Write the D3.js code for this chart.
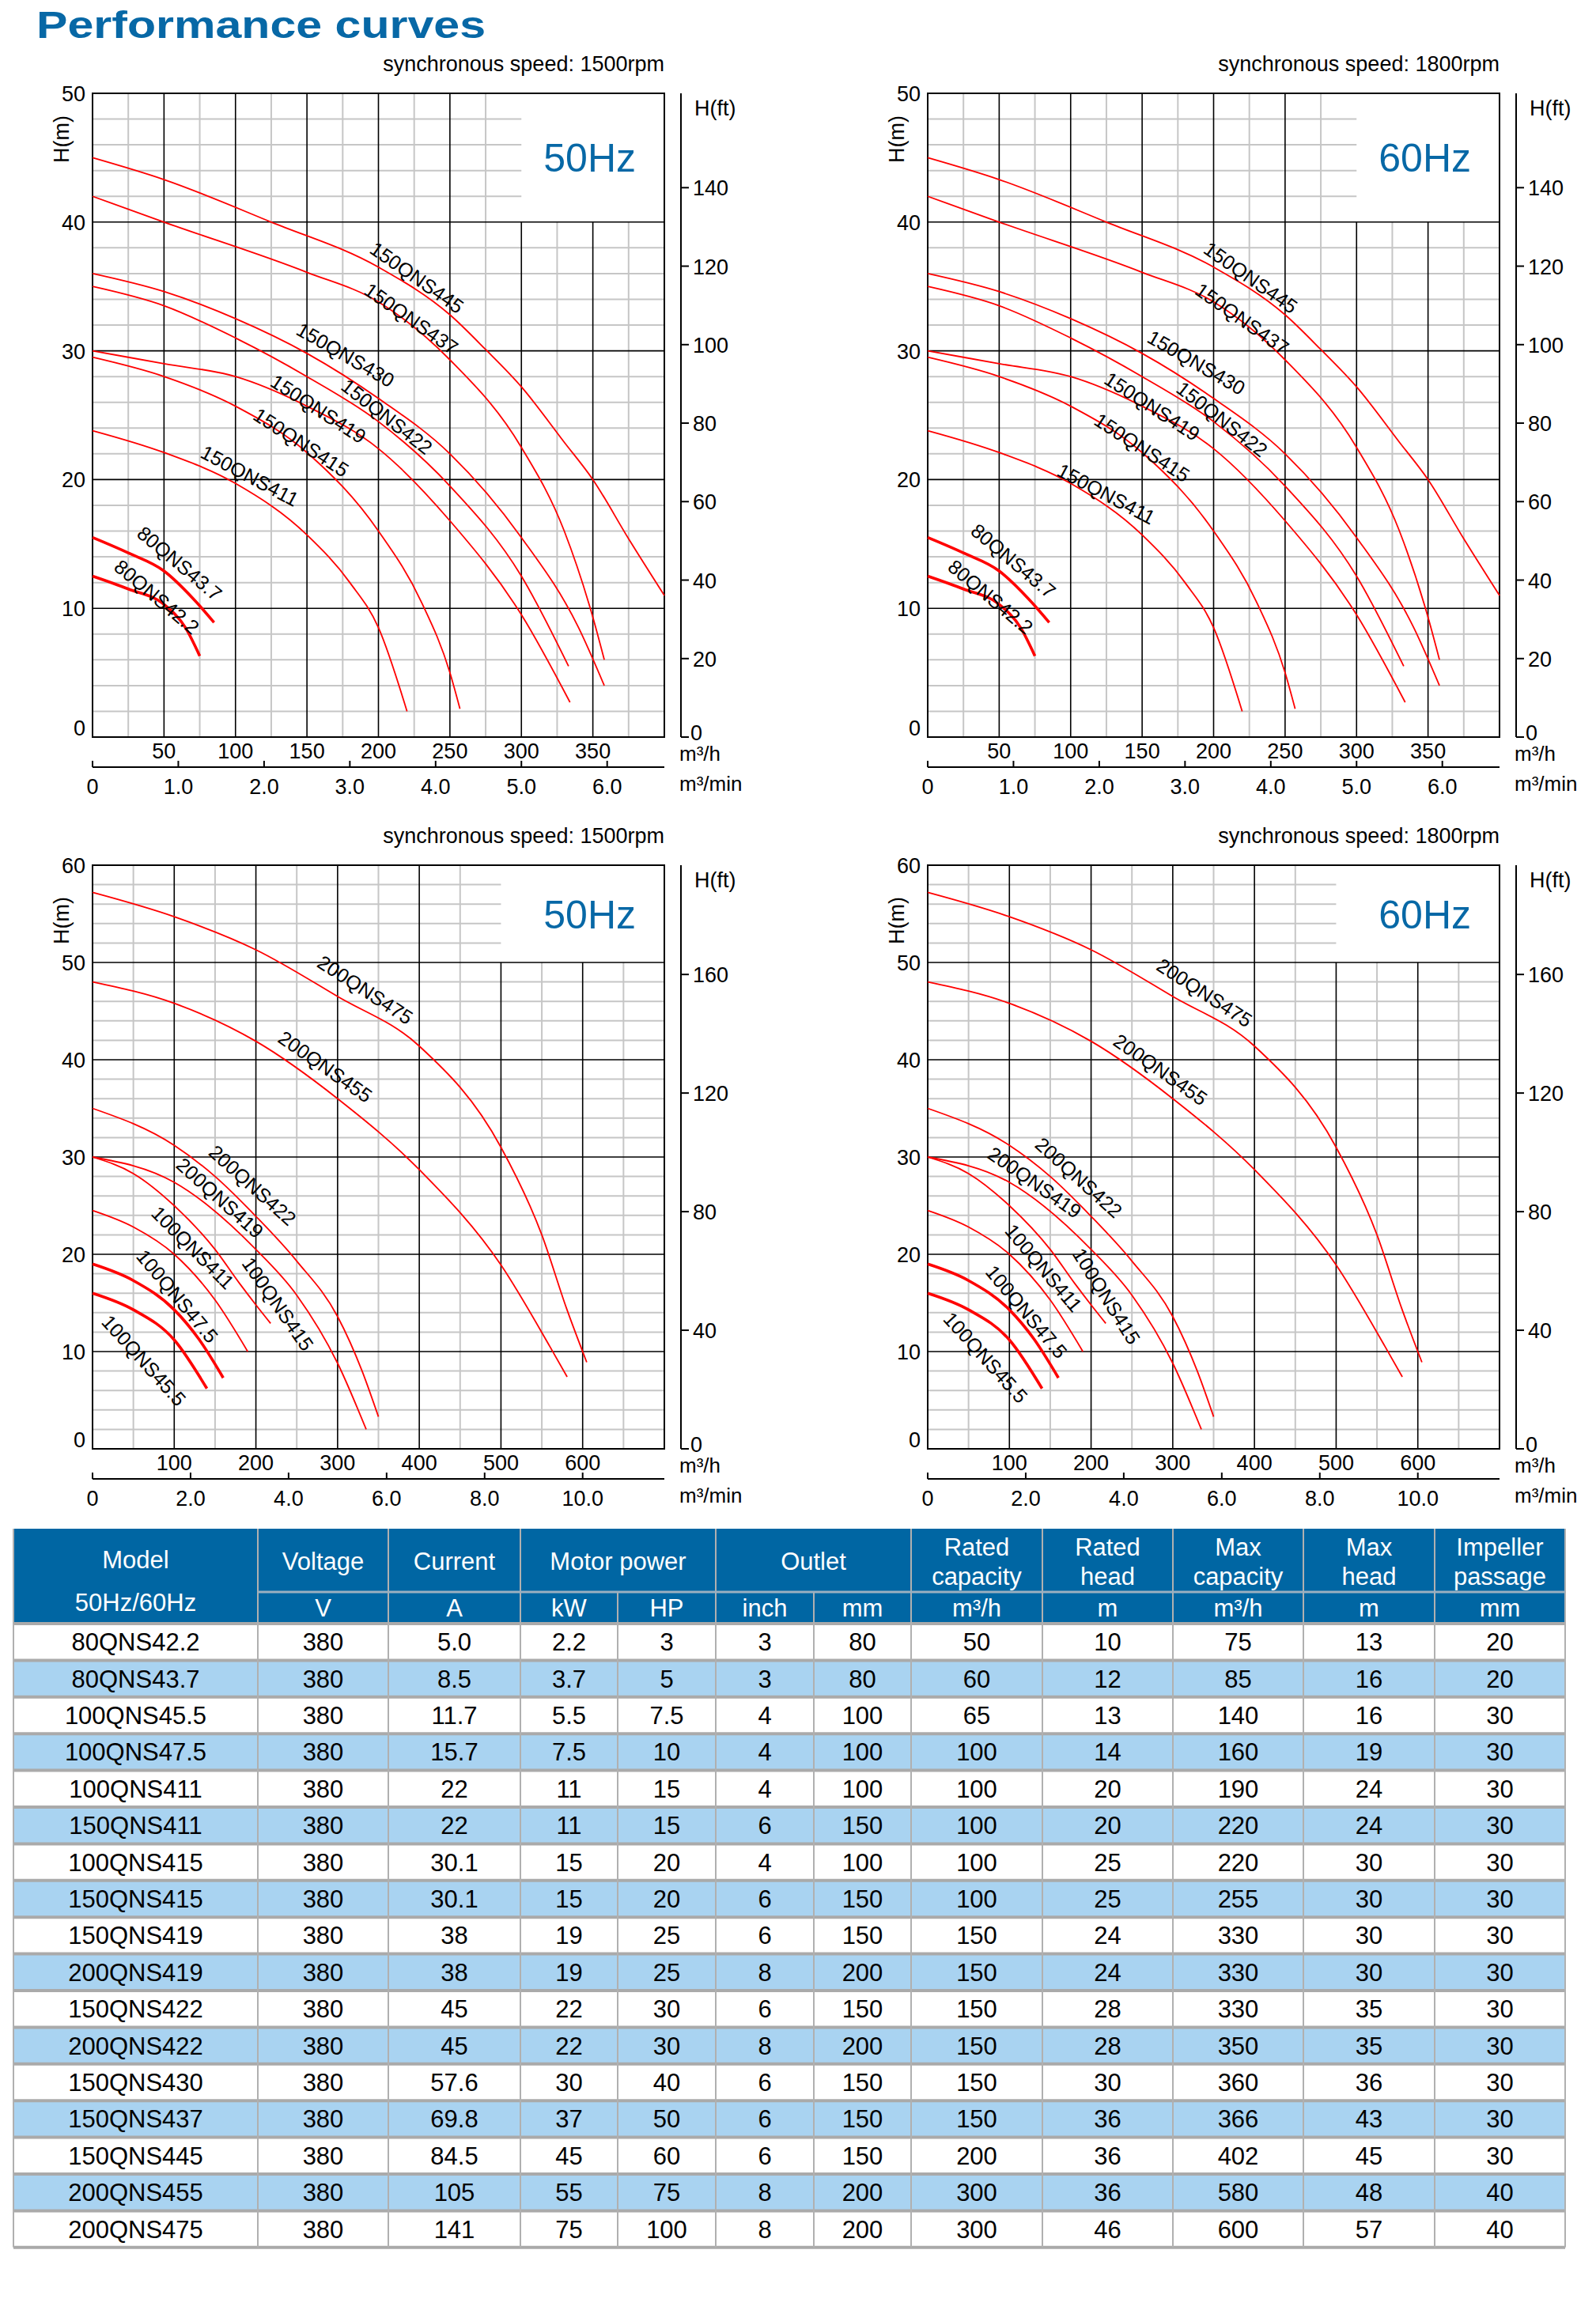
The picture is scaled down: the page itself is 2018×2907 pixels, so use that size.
<!DOCTYPE html>
<html><head><meta charset="utf-8">
<script src="https://cdn.jsdelivr.net/npm/d3@7"></script>
<style>body{margin:0;background:#fff}text{font-family:"Liberation Sans",Arial,sans-serif}</style>
</head><body><svg id="page" width="2018" height="2907"></svg>
<script>
// curves for 150QNS / 80QNS pumps, [flow m3/h, head m]
var s445 = [[0,45],[50,43.3],[125,40],[200,36.5],[250,32.8],[275,30.1],[300,27.2],[330,22.9],[350,20],[375,15.4],[400,11]];
var s437 = [[0,42],[50,40],[150,36.1],[200,33.8],[250,29.3],[300,22.5],[330,16],[350,9.3],[358,6]];
var s430 = [[0,36],[50,34.6],[100,32.5],[150,29.8],[200,26.3],[250,22],[300,15.5],[340,8.5],[358,4]];
var s422 = [[0,35],[50,33.5],[100,31],[150,28],[200,24.5],[250,19.5],[300,12.5],[333,5.5]];
var s419 = [[0,30],[50,29],[100,28],[150,25.7],[200,22.4],[250,16.8],[300,9.5],[334,2.7]];
var s415 = [[0,29.5],[50,28],[100,25.7],[150,22.1],[200,16],[230,10.5],[250,5],[257,2.2]];
var s411 = [[0,23.8],[50,22.1],[100,19.7],[150,15.7],[180,12],[200,8.5],[220,2]];
var s437b = [[0,15.5],[25,14.3],[50,12.9],[70,10.8],[85,8.9]];
var s422b = [[0,12.5],[25,11.5],[50,10.3],[65,8.5],[75,6.3]];
// curves for 200QNS / 100QNS pumps
var t475 = [[0,57.2],[100,54.7],[200,51.3],[300,46.5],[400,41.4],[500,31],[550,22],[580,14.5],[605,8.9]];
var t455 = [[0,48],[100,45.8],[200,41.9],[300,36],[400,28.7],[500,18.9],[560,10.5],[581,7.4]];
var t422 = [[0,35],[100,31.2],[150,28],[200,23.9],[250,19.3],[300,13.6],[330,8],[350,3.3]];
var t419 = [[0,30],[100,27.4],[200,20.5],[250,15.8],[300,8.8],[335,2]];
var t415 = [[0,30],[50,28.3],[100,25],[150,20.5],[180,17],[200,14.8],[218,12.9]];
var t411 = [[0,24.5],[50,22.8],[100,20],[150,15.3],[190,10]];
var t475b = [[0,19],[50,17.3],[100,14.3],[130,11.3],[160,7.3]];
var t455b = [[0,16],[50,14.3],[100,11.2],[140,6.2]];

var topNames = ["150QNS445","150QNS437","150QNS430","150QNS422","150QNS419","150QNS415","150QNS411","80QNS43.7","80QNS42.2"];
var topSeries = [s445, s437, s430, s422, s419, s415, s411, s437b, s422b];
var topLabels50 = [[227,35.7,35],[223,32.5,35],[177,29.7,30],[206,24.9,38],[158,25.5,33],[146,22.9,33],[110,20.3,28],[61,13.5,40],[45,10.9,40]];
var topLabels60 = [[226,35.7,35],[220,32.5,35],[188,29.1,30],[206,24.7,38],[157,25.7,33],[150,22.5,33],[125,18.9,28],[60,13.7,40],[44,10.9,40]];

var botNames = ["200QNS475","200QNS455","200QNS422","200QNS419","100QNS415","100QNS411","100QNS47.5","100QNS45.5"];
var botSeries = [t475, t455, t422, t419, t415, t411, t475b, t455b];
var botLabels50 = [[334,47.2,33],[285,39.3,35],[196,27.1,42],[156,25.8,42],[227,14.9,55],[123,20.7,45],[104,15.7,50],[63,9.1,48]];
var botLabels60 = [[339,46.9,33],[285,39,35],[185,27.9,42],[131,27.4,35],[219,15.7,58],[142,18.6,50],[121,14.1,50],[71,9.4,48]];

// table
var columns = ["Model","Voltage","Current","kW","HP","inch","mm","Rated capacity","Rated head","Max capacity","Max head","Impeller passage"];
var units = ["V","A","kW","HP","inch","mm","m³/h","m","m³/h","m","mm"];
var models = ["80QNS42.2","80QNS43.7","100QNS45.5","100QNS47.5","100QNS411","150QNS411","100QNS415","150QNS415","150QNS419","200QNS419","150QNS422","200QNS422","150QNS430","150QNS437","150QNS445","200QNS455","200QNS475"];
var voltage = [380,380,380,380,380,380,380,380,380,380,380,380,380,380,380,380,380];
var current = ["5.0","8.5","11.7","15.7","22","22","30.1","30.1","38","38","45","45","57.6","69.8","84.5","105","141"];
var kw = ["2.2","3.7","5.5","7.5","11","11","15","15","19","19","22","22","30","37","45","55","75"];
var hp = ["3","5","7.5","10","15","15","20","20","25","25","30","30","40","50","60","75","100"];
var inch = [3,3,4,4,4,6,4,6,6,8,6,8,6,6,6,8,8];
var outletMm = [80,80,100,100,100,150,100,150,150,200,150,200,150,150,150,200,200];
var ratedCap = [50,60,65,100,100,100,100,100,150,150,150,150,150,150,200,300,300];
var ratedHead = [10,12,13,14,20,20,25,25,24,24,28,28,30,36,36,36,46];
var maxCap = [75,85,140,160,190,220,220,255,330,330,330,350,360,366,402,580,600];
var maxHead = [13,16,16,19,24,24,30,30,30,30,35,35,36,43,45,48,57];
var passage = [20,20,30,30,30,30,30,30,30,30,30,30,30,30,30,40,40];

var svg = d3.select("#page");
var blue = "#0768a6";

svg.append("text").attr("x", 46).attr("y", 48).attr("font-size", 48).attr("font-weight", 900)
  .attr("fill", blue).attr("textLength", 568).attr("lengthAdjust", "spacingAndGlyphs")
  .text("Performance curves");

function drawChart(o) {
  var w = 723, h = o.h;
  var g = svg.append("g").attr("transform", "translate(" + o.left + "," + o.top + ")");
  var x = d3.scaleLinear().domain([0, o.xMax]).range([0, w]);
  var y = d3.scaleLinear().domain([0, o.yMax]).range([h, 0]);
  var inBox = function (xv, yv) { return xv > o.boxX && yv > o.boxY; };

  g.append("text").attr("x", w).attr("y", -28).attr("text-anchor", "end").attr("font-size", 27)
    .text("synchronous speed: " + o.rpm);

  // grid, minor then major
  d3.range(o.xMinor, o.xMax, o.xMinor).forEach(function (v) {
    var major = v % o.xMajor === 0;
    var y2 = v >= o.boxX ? y(o.boxY) : 0;
    g.append("line").attr("x1", x(v)).attr("x2", x(v)).attr("y1", h).attr("y2", y2)
      .attr("stroke", major ? "#000" : "#c6c6c6").attr("stroke-width", major ? 1.6 : 2).attr("data-m", major ? 1 : 0);
  });
  d3.range(o.yMinor, o.yMax, o.yMinor).forEach(function (v) {
    var major = Math.abs(v % o.yMajor) < 1e-6;
    var x2 = v > o.boxY ? x(o.boxX) : w;
    if (v === o.boxY) x2 = w;
    g.append("line").attr("x1", 0).attr("x2", x2).attr("y1", y(v)).attr("y2", y(v))
      .attr("stroke", major ? "#000" : "#c6c6c6").attr("stroke-width", major ? 1.6 : 2).attr("data-m", major ? 1 : 0);
  });
  g.selectAll("line[data-m='1']").raise();
  g.append("rect").attr("width", w).attr("height", h).attr("fill", "none").attr("stroke", "#000").attr("stroke-width", 2);

  g.append("text").attr("x", x(o.xMax) - 36).attr("y", y(o.boxY + (o.yMax - o.boxY) / 2) + 18)
    .attr("text-anchor", "end").attr("font-size", 50).attr("fill", blue).text(o.hz);

  // left axis labels
  d3.range(0, o.yMax + 1, o.yMajor).forEach(function (v) {
    g.append("text").attr("x", -9).attr("y", y(v) + (v === 0 ? -2 : 10)).attr("text-anchor", "end")
      .attr("font-size", 27).text(v);
  });
  g.append("text").attr("transform", "translate(-30," + (o.hmY) + ") rotate(-90)").attr("text-anchor", "middle")
    .attr("font-size", 27).text("H(m)");

  // flow axis labels
  d3.range(o.xMajor, o.xMax, o.xMajor * o.xLabStep).forEach(function (v) {
    g.append("text").attr("x", x(v)).attr("y", h + 27).attr("text-anchor", "middle").attr("font-size", 27).text(v);
  });
  // m3/min axis
  var xm = d3.scaleLinear().domain([0, o.xMax / 60]).range([0, w]);
  var ay = h + 38;
  g.append("line").attr("x1", 0).attr("x2", w).attr("y1", ay).attr("y2", ay).attr("stroke", "#000").attr("stroke-width", 2);
  o.minTicks.forEach(function (v) {
    g.append("line").attr("x1", xm(v)).attr("x2", xm(v)).attr("y1", ay).attr("y2", ay - 8).attr("stroke", "#000").attr("stroke-width", 2);
    g.append("text").attr("x", xm(v)).attr("y", ay + 34).attr("text-anchor", "middle").attr("font-size", 27)
      .text(v === 0 ? "0" : v.toFixed(1));
  });

  // ft axis
  var ax = w + 21;
  var yf = d3.scaleLinear().domain([0, o.yMax / 0.3048]).range([h, 0]);
  g.append("line").attr("x1", ax).attr("x2", ax).attr("y1", 0).attr("y2", h).attr("stroke", "#000").attr("stroke-width", 2);
  o.ftTicks.forEach(function (v) {
    g.append("line").attr("x1", ax).attr("x2", ax + 10).attr("y1", yf(v)).attr("y2", yf(v)).attr("stroke", "#000").attr("stroke-width", 2);
    g.append("text").attr("x", ax + 15).attr("y", yf(v) + 10).attr("font-size", 27).text(v);
  });
  g.append("line").attr("x1", ax).attr("x2", ax + 10).attr("y1", h).attr("y2", h).attr("stroke", "#000").attr("stroke-width", 2);
  g.append("text").attr("x", ax + 12).attr("y", h + 4).attr("font-size", 27).text("0");
  g.append("text").attr("x", ax + 17).attr("y", 28).attr("font-size", 27).text("H(ft)");
  g.append("text").attr("x", ax - 2).attr("y", h + 30).attr("font-size", 26).text("m³/h");
  g.append("text").attr("x", ax - 2).attr("y", h + 68).attr("font-size", 26).text("m³/min");

  // curves
  var line = d3.line().x(function (d) { return x(d[0]); }).y(function (d) { return y(d[1]); }).curve(d3.curveMonotoneX);
  o.series.forEach(function (s, i) {
    g.append("path").attr("d", line(s)).attr("fill", "none").attr("stroke", "#ff0000")
      .attr("stroke-width", i >= o.series.length - 2 ? 3.6 : 1.8);
  });
  o.labels.forEach(function (l, i) {
    g.append("text").attr("transform", "translate(" + x(l[0]) + "," + y(l[1]) + ") rotate(" + l[2] + ")")
      .attr("text-anchor", "middle").attr("dominant-baseline", "central").attr("font-size", 25).text(o.names[i]);
  });
}

var topBase = {top: 118, h: 814, xMax: 400, yMax: 50, xMinor: 25, xMajor: 50, yMinor: 2, yMajor: 10, xLabStep: 1,
  boxX: 300, boxY: 40, minTicks: [0, 1, 2, 3, 4, 5, 6], ftTicks: [20, 40, 60, 80, 100, 120, 140], hmY: 58,
  names: topNames, series: topSeries};
var botBase = {top: 1094, h: 738, xMax: 700, yMax: 60, xMinor: 50, xMajor: 100, yMinor: 2, yMajor: 10, xLabStep: 1,
  boxX: 500, boxY: 50, minTicks: [0, 2, 4, 6, 8, 10], ftTicks: [40, 80, 120, 160], hmY: 70,
  names: botNames, series: botSeries};

drawChart(Object.assign({}, topBase, {left: 117, rpm: "1500rpm", hz: "50Hz", labels: topLabels50}));
drawChart(Object.assign({}, topBase, {left: 1173, rpm: "1800rpm", hz: "60Hz", labels: topLabels60}));
drawChart(Object.assign({}, botBase, {left: 117, rpm: "1500rpm", hz: "50Hz", labels: botLabels50}));
drawChart(Object.assign({}, botBase, {left: 1173, rpm: "1800rpm", hz: "60Hz", labels: botLabels60}));

// ---- table ----
var colX = [17, 326, 491, 658, 781, 905, 1029, 1152, 1318, 1483, 1648, 1814, 1979];
var tTop = 1933, hMid = 2013, hBot = 2053, rowH = 46.4;
var tg = svg.append("g");
tg.append("rect").attr("x", colX[0]).attr("y", tTop).attr("width", colX[12] - colX[0]).attr("height", hBot - tTop).attr("fill", "#0066a3");

var rows = models.map(function (m, i) {
  return [m, voltage[i], current[i], kw[i], hp[i], inch[i], outletMm[i], ratedCap[i], ratedHead[i], maxCap[i], maxHead[i], passage[i]];
});
rows.forEach(function (r, i) {
  var ry = hBot + i * rowH;
  tg.append("rect").attr("x", colX[0]).attr("y", ry).attr("width", colX[12] - colX[0]).attr("height", rowH)
    .attr("fill", i % 2 ? "#a9d3f1" : "#fff");
  r.forEach(function (v, j) {
    tg.append("text").attr("x", (colX[j] + colX[j + 1]) / 2).attr("y", ry + rowH / 2 + 11)
      .attr("text-anchor", "middle").attr("font-size", 31).text(v);
  });
});
// grid lines
for (var i = 0; i <= rows.length; i++) {
  tg.append("line").attr("x1", colX[0]).attr("x2", colX[12]).attr("y1", hBot + i * rowH).attr("y2", hBot + i * rowH)
    .attr("stroke", "#aaa").attr("stroke-width", 4);
}
colX.forEach(function (cx, j) {
  var y1 = (j === 4 || j === 6) ? hMid : tTop;
  if (j === 1) y1 = tTop;
  tg.append("line").attr("x1", cx).attr("x2", cx).attr("y1", y1).attr("y2", hBot + rows.length * rowH)
    .attr("stroke", "#b0b0b0").attr("stroke-width", 2);
});
tg.append("line").attr("x1", colX[1]).attr("x2", colX[12]).attr("y1", hMid).attr("y2", hMid).attr("stroke", "#9bb0c0").attr("stroke-width", 3);

var head1 = [[0, 1, ["Model"]], [1, 2, ["Voltage"]], [2, 3, ["Current"]], [3, 5, ["Motor power"]], [5, 7, ["Outlet"]],
  [7, 8, ["Rated", "capacity"]], [8, 9, ["Rated", "head"]], [9, 10, ["Max", "capacity"]], [10, 11, ["Max", "head"]], [11, 12, ["Impeller", "passage"]]];
head1.forEach(function (hd) {
  var cx = (colX[hd[0]] + colX[hd[1]]) / 2;
  if (hd[2].length === 1) {
    tg.append("text").attr("x", cx).attr("y", hd[0] === 0 ? 1983 : 1985).attr("text-anchor", "middle").attr("font-size", 31).attr("fill", "#fff").text(hd[2][0]);
  } else {
    tg.append("text").attr("x", cx).attr("y", 1967).attr("text-anchor", "middle").attr("font-size", 31).attr("fill", "#fff").text(hd[2][0]);
    tg.append("text").attr("x", cx).attr("y", 2004).attr("text-anchor", "middle").attr("font-size", 31).attr("fill", "#fff").text(hd[2][1]);
  }
});
tg.append("text").attr("x", (colX[0] + colX[1]) / 2).attr("y", 2037).attr("text-anchor", "middle").attr("font-size", 31).attr("fill", "#fff").text("50Hz/60Hz");
units.forEach(function (u, j) {
  tg.append("text").attr("x", (colX[j + 1] + colX[j + 2]) / 2).attr("y", 2044).attr("text-anchor", "middle").attr("font-size", 31).attr("fill", "#fff").text(u);
});
</script></body></html>
